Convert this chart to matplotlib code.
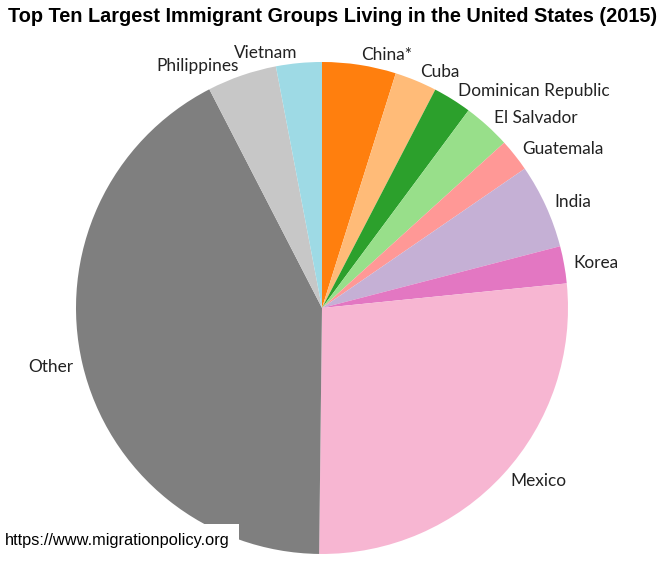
import matplotlib.pyplot as plt

# immigrant population in 2015 (millions), clockwise from the top
countries = ["China*", "Cuba", "Dominican Republic", "El Salvador", "Guatemala",
             "India", "Korea", "Mexico", "Other", "Philippines", "Vietnam"]
population = [2.1, 1.2, 1.1, 1.35, 0.93, 2.4, 1.06, 11.6, 18.3, 1.98, 1.3]
colors = ["#ff7f0e", "#ffbb78", "#2ca02c", "#98df8a", "#ff9896",
          "#c5b0d5", "#e377c2", "#f7b6d2", "#7f7f7f", "#c7c7c7", "#9edae5"]

fig = plt.figure(figsize=(6.58, 5.65), dpi=100)
ax = fig.add_axes([0.1155, 0.0195, 0.7477, 0.8708])

ax.pie(population, labels=countries, colors=colors, startangle=90,
       counterclock=False, labeldistance=1.04,
       textprops={"family": "Lato", "fontsize": 12.4, "color": "#222222"})
ax.set_xlim(-1, 1)
ax.set_ylim(-1, 1)
ax.set_aspect("equal")

fig.text(8 / 658, 1 - 17 / 565,
         "Top Ten Largest Immigrant Groups Living in the United States (2015)",
         family="Liberation Sans", fontweight="bold", fontsize=14.3,
         ha="left", va="center")

fig.text(5 / 658, 1 - 541 / 565, "https://www.migrationpolicy.org",
         family="Liberation Sans", fontsize=11.8, ha="left", va="center",
         bbox=dict(facecolor="white", edgecolor="none", pad=7))

plt.savefig("out.png", dpi=100)
